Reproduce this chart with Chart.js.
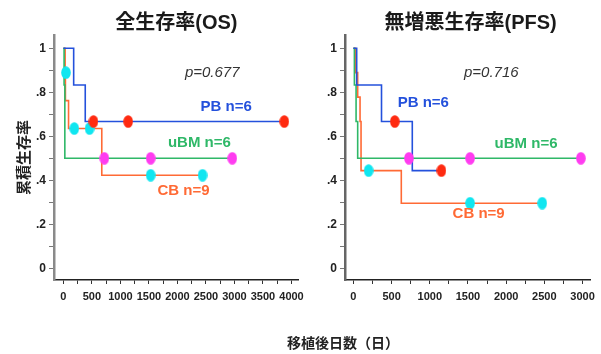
<!DOCTYPE html>
<html>
<head>
<meta charset="utf-8">
<script src="https://cdn.jsdelivr.net/npm/chart.js@4.4.1/dist/chart.umd.min.js"></script>
<style>
  body { margin: 0; background: #fff; width: 601px; height: 354px; overflow: hidden; position: relative; }
  #osChart { position: absolute; left: 0; top: 0; }
  #pfsChart { position: absolute; left: 300px; top: 0; }
  #xTitle { position: absolute; left: 343px; top: 333px; transform: translateX(-50%);
            font: bold 14px "Noto Sans CJK JP", sans-serif; color: #222; white-space: nowrap; line-height: 18px; }
</style>
</head>
<body>
<canvas id="osChart" width="310" height="354"></canvas>
<canvas id="pfsChart" width="301" height="354"></canvas>
<div id="xTitle">移植後日数（日）</div>
<script>
// 全生存率 (OS) : 時間(日) と生存率
var osPbT = [0, 180, 383, 3873];
var osPbS = [1, 0.833, 0.667, 0.667];
var osPbCensT = [527, 1136, 3873];
var osPbCensS = [0.667, 0.667, 0.667];

var osBmT = [0, 12, 25, 2962];
var osBmS = [1, 0.833, 0.5, 0.5];
var osBmCensT = [718, 1530, 2962];
var osBmCensS = [0.5, 0.5, 0.5];

var osCbT = [0, 30, 35, 90, 673, 2440];
var osCbS = [1, 0.889, 0.762, 0.635, 0.423, 0.423];
var osCbCensT = [45, 191, 458, 1530, 2440];
var osCbCensS = [0.889, 0.635, 0.635, 0.423, 0.423];

// 無増悪生存率 (PFS)
var pfsPbT = [0, 43, 368, 771, 1152];
var pfsPbS = [1, 0.833, 0.667, 0.444, 0.444];
var pfsPbCensT = [542, 1152];
var pfsPbCensS = [0.667, 0.444];

var pfsBmT = [0, 13, 35, 56, 2978];
var pfsBmS = [1, 0.833, 0.667, 0.5, 0.5];
var pfsBmCensT = [727, 1528, 2978];
var pfsBmCensS = [0.5, 0.5, 0.5];

var pfsCbT = [0, 26, 56, 87, 100, 627, 2472];
var pfsCbS = [1, 0.889, 0.778, 0.667, 0.444, 0.296, 0.296];
var pfsCbCensT = [199, 1528, 2472];
var pfsCbCensS = [0.444, 0.296, 0.296];

// 目盛り
var yTicks = [0, 0.1, 0.2, 0.3, 0.4, 0.5, 0.6, 0.7, 0.8, 0.9, 1];
var yTickLabels = { 0: '0', 0.2: '.2', 0.4: '.4', 0.6: '.6', 0.8: '.8', 1: '1' };
var osXTicks = [0, 250, 500, 750, 1000, 1250, 1500, 1750, 2000, 2250, 2500, 2750, 3000, 3250, 3500, 3750, 4000];
var pfsXTicks = [0, 250, 500, 750, 1000, 1250, 1500, 1750, 2000, 2250, 2500, 2750, 3000];

var colPb = '#2451dc', colBm = '#2fb868', colCb = '#ff6a35';
var colRed = '#ff2a10', colCyan = '#10e6f0', colPink = '#ff3cf0';

// 打ち切り印 (楕円)
function ellipse(color) {
    var c = document.createElement('canvas');
    c.width = 10; c.height = 13;
    var g = c.getContext('2d');
    g.fillStyle = color;
    g.beginPath();
    g.ellipse(5, 6.5, 4.8, 6.3, 0, 0, Math.PI * 2);
    g.fill();
    return c;
}
var dotRed = ellipse(colRed), dotCyan = ellipse(colCyan), dotPink = ellipse(colPink);

function pts(t, s) {
    var arr = [];
    for (var i = 0; i < t.length; i++) arr.push({ x: t[i], y: s[i] });
    return arr;
}

function stepSet(t, s, color) {
    return { data: pts(t, s), borderColor: color, borderWidth: 1.6, stepped: true,
             pointRadius: 0, fill: false, clip: false, order: 1 };
}
function censSet(t, s, img) {
    return { data: pts(t, s), showLine: false, pointStyle: img, pointRadius: 6,
             clip: false, order: 0 };
}

var notesPlugin = {
    id: 'notes',
    afterDraw: function (chart, args, opts) {
        var ctx = chart.ctx, area = chart.chartArea;
        ctx.save();
        ctx.textAlign = 'center';
        ctx.textBaseline = 'middle';
        ctx.fillStyle = '#1a1a1a';
        ctx.font = 'bold 20px "Liberation Sans", "Noto Sans CJK JP", sans-serif';
        ctx.fillText(opts.title, (area.left + area.right) / 2 + opts.titleShift, 23);
        for (var n of opts.notes) {
            ctx.font = n.font;
            ctx.fillStyle = n.color;
            ctx.fillText(n.text, chart.scales.x.getPixelForValue(n.x), chart.scales.y.getPixelForValue(n.y));
        }
        ctx.restore();
    }
};

Chart.defaults.font.family = '"Liberation Sans", Arial, sans-serif';
Chart.defaults.color = '#222';

function makeChart(id, cfg) {
    return new Chart(document.getElementById(id), {
        type: 'line',
        data: { datasets: cfg.datasets },
        plugins: [notesPlugin],
        options: {
            responsive: false,
            animation: false,
            events: [],
            layout: { padding: { left: cfg.padLeft, right: cfg.padRight, top: 35, bottom: 44 } },
            plugins: {
                legend: { display: false },
                tooltip: { enabled: false },
                notes: { title: cfg.title, titleShift: cfg.titleShift, notes: cfg.notes }
            },
            scales: {
                x: {
                    type: 'linear',
                    min: cfg.xMin, max: cfg.xMax,
                    afterBuildTicks: function (axis) { axis.ticks = cfg.xTicks.map(function (v) { return { value: v }; }); },
                    afterFit: function (axis) { axis.height = 30; },
                    grid: { drawOnChartArea: false, drawTicks: true, tickLength: 4, tickColor: '#333', tickWidth: 1 },
                    border: { color: '#222', width: 1.5 },
                    ticks: {
                        autoSkip: false, maxRotation: 0, padding: 6,
                        font: { family: '"Liberation Sans Narrow", "Arial Narrow", "Liberation Sans", sans-serif', size: 11, weight: 'bold' },
                        callback: function (v) { return v % 500 === 0 ? String(v) : ''; }
                    }
                },
                y: {
                    min: -0.053, max: 1.06,
                    afterBuildTicks: function (axis) { axis.ticks = yTicks.map(function (v) { return { value: v }; }); },
                    afterFit: function (axis) { axis.width = cfg.yWidth; },
                    grid: { drawOnChartArea: false, drawTicks: true, tickLength: 5, tickColor: '#777', tickWidth: 1 },
                    border: { color: cfg.yAxisColor, width: 2.5 },
                    title: { display: cfg.yTitle !== '', text: cfg.yTitle, color: '#222',
                             font: { family: '"Noto Sans CJK JP", sans-serif', size: 15, weight: 'bold' }, padding: { top: 4, bottom: 2 } },
                    ticks: {
                        autoSkip: false, padding: 3,
                        font: { size: 12, weight: 'bold' },
                        callback: function (v) {
                            var k = Math.round(v * 10) / 10;
                            return yTickLabels[k] !== undefined ? yTickLabels[k] : '';
                        }
                    }
                }
            }
        }
    });
}

var noteFont = 'bold 15px "Liberation Sans", Arial, sans-serif';
var pFont = 'italic 15px "Liberation Sans", Arial, sans-serif';

makeChart('osChart', {
    title: '全生存率(OS)', titleShift: 0,
    padLeft: 10, padRight: 9, yWidth: 44, yTitle: '累積生存率', yAxisColor: '#8a8a8a',
    xMin: -165, xMax: 4128, xTicks: osXTicks,
    datasets: [
        censSet(osPbCensT, osPbCensS, dotRed),
        censSet(osBmCensT, osBmCensS, dotPink),
        censSet(osCbCensT, osCbCensS, dotCyan),
        stepSet(osPbT, osPbS, colPb),
        stepSet(osBmT, osBmS, colBm),
        stepSet(osCbT, osCbS, colCb)
    ],
    notes: [
        { text: 'p=0.677', x: 2610, y: 0.888, color: '#333', font: pFont },
        { text: 'PB n=6', x: 2855, y: 0.733, color: colPb, font: noteFont },
        { text: 'uBM n=6', x: 2385, y: 0.570, color: colBm, font: noteFont },
        { text: 'CB n=9', x: 2105, y: 0.353, color: colCb, font: noteFont }
    ]
});

makeChart('pfsChart', {
    title: '無増悪生存率(PFS)', titleShift: 3,
    padLeft: 0, padRight: 7, yWidth: 45, yTitle: '', yAxisColor: '#666',
    xMin: -110, xMax: 3100, xTicks: pfsXTicks,
    datasets: [
        censSet(pfsPbCensT, pfsPbCensS, dotRed),
        censSet(pfsBmCensT, pfsBmCensS, dotPink),
        censSet(pfsCbCensT, pfsCbCensS, dotCyan),
        stepSet(pfsPbT, pfsPbS, colPb),
        stepSet(pfsBmT, pfsBmS, colBm),
        stepSet(pfsCbT, pfsCbS, colCb)
    ],
    notes: [
        { text: 'p=0.716', x: 1805, y: 0.888, color: '#333', font: pFont },
        { text: 'PB n=6', x: 915, y: 0.750, color: colPb, font: noteFont },
        { text: 'uBM n=6', x: 2260, y: 0.567, color: colBm, font: noteFont },
        { text: 'CB n=9', x: 1640, y: 0.247, color: colCb, font: noteFont }
    ]
});
</script>
</body>
</html>
